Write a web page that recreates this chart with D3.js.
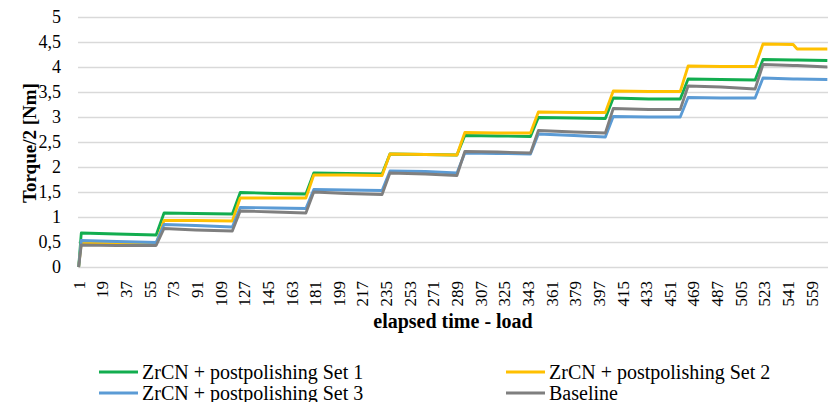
<!DOCTYPE html>
<html>
<head>
<meta charset="utf-8">
<script src="https://cdn.jsdelivr.net/npm/d3@7"></script>
<style>
  body { margin: 0; background: #fff; }
  svg text { font-family: "Liberation Serif", "DejaVu Serif", serif; fill: #000; }
</style>
</head>
<body>
<svg id="chart" width="836" height="402"></svg>
<script>
// categories run 1..571, labelled every 18th
const nCategories = 571;
const xTicks = [1, 19, 37, 55, 73, 91, 109, 127, 145, 163, 181, 199, 217, 235, 253, 271,
  289, 307, 325, 343, 361, 379, 397, 415, 433, 451, 469, 487, 505, 523, 541, 559];
const yTicks = [0, 0.5, 1, 1.5, 2, 2.5, 3, 3.5, 4, 4.5, 5];

// sample positions (category index)
const time = [1, 3, 30, 60, 66, 90, 118, 124, 150, 174, 180, 205, 232, 238, 265, 289,
  295, 320, 345, 351, 378, 402, 408, 435, 459, 465, 490, 516, 522, 545, 548, 571];

const set1 = [0, 0.68, 0.66, 0.64, 1.08, 1.07, 1.06, 1.49, 1.47, 1.46, 1.88, 1.87, 1.86, 2.26, 2.25, 2.24,
  2.63, 2.62, 2.61, 2.99, 2.98, 2.97, 3.38, 3.36, 3.36, 3.76, 3.75, 3.74, 4.15, 4.14, 4.14, 4.13];
const set2 = [0, 0.48, 0.46, 0.46, 0.93, 0.93, 0.92, 1.38, 1.38, 1.38, 1.84, 1.84, 1.83, 2.26, 2.25, 2.24,
  2.69, 2.68, 2.68, 3.10, 3.09, 3.09, 3.52, 3.51, 3.51, 4.02, 4.01, 4.01, 4.46, 4.45, 4.36, 4.36];
const set3 = [0, 0.53, 0.51, 0.49, 0.85, 0.83, 0.80, 1.19, 1.18, 1.17, 1.55, 1.54, 1.53, 1.92, 1.91, 1.88,
  2.28, 2.27, 2.26, 2.66, 2.63, 2.60, 3.01, 3.00, 3.00, 3.39, 3.38, 3.38, 3.78, 3.76, 3.76, 3.75];
const baseline = [0, 0.44, 0.43, 0.43, 0.77, 0.74, 0.72, 1.12, 1.10, 1.08, 1.50, 1.47, 1.45, 1.88, 1.86, 1.83,
  2.31, 2.30, 2.28, 2.73, 2.70, 2.68, 3.17, 3.15, 3.15, 3.62, 3.60, 3.56, 4.05, 4.03, 4.03, 4.00];

const seriesNames = ["ZrCN + postpolishing Set 1", "ZrCN + postpolishing Set 2",
  "ZrCN + postpolishing Set 3", "Baseline"];
const seriesValues = [set1, set2, set3, baseline];
const seriesColors = ["#12ad4f", "#ffc000", "#5b9bd5", "#7f7f7f"];

const svg = d3.select("#chart");
const plotLeft = 78, plotRight = 828, plotTop = 17, plotBottom = 267;

const x = d3.scaleLinear().domain([0.5, nCategories + 0.5]).range([plotLeft, plotRight]);
const y = d3.scaleLinear().domain([0, 5]).range([plotBottom, plotTop]);

// gridlines
svg.append("g")
  .attr("transform", `translate(${plotLeft},0)`)
  .call(d3.axisLeft(y).tickValues(yTicks).tickSize(-(plotRight - plotLeft)).tickFormat(""))
  .call((g) => g.select(".domain").remove())
  .call((g) => g.selectAll("line").attr("stroke", "#d9d9d9").attr("stroke-width", 1.3));

// y labels
svg.append("g")
  .attr("transform", `translate(${plotLeft},0)`)
  .call(d3.axisLeft(y).tickValues(yTicks).tickSize(0).tickPadding(17)
    .tickFormat((d) => String(d).replace(".", ",")))
  .call((g) => g.select(".domain").remove())
  .call((g) => g.selectAll("text").attr("font-size", 18).attr("dy", "0.33em"));

// x labels
svg.append("g")
  .attr("transform", `translate(0,${plotBottom})`)
  .call(d3.axisBottom(x).tickValues(xTicks).tickSize(0).tickFormat((d) => d))
  .call((g) => g.select(".domain").remove())
  .call((g) => g.selectAll("text")
    .attr("font-size", 17)
    .attr("text-anchor", "end")
    .attr("transform", "rotate(-90)")
    .attr("x", -14)
    .attr("y", 0)
    .attr("dy", "0.33em"));

// series
const line = d3.line()
  .x((d) => x(d[0]))
  .y((d) => y(d[1]));

seriesValues.forEach((vals, i) => {
  svg.append("path")
    .datum(time.map((t, j) => [t, vals[j]]))
    .attr("fill", "none")
    .attr("stroke", seriesColors[i])
    .attr("stroke-width", 2.8)
    .attr("stroke-linejoin", "round")
    .attr("d", line);
});

// axis titles
svg.append("text")
  .attr("transform", "translate(36,143) rotate(-90)")
  .attr("text-anchor", "middle")
  .attr("font-size", 19)
  .attr("font-weight", "bold")
  .text("Torque/2 [Nm]");

svg.append("text")
  .attr("x", (plotLeft + plotRight) / 2)
  .attr("y", 328)
  .attr("text-anchor", "middle")
  .attr("font-size", 20)
  .attr("font-weight", "bold")
  .text("elapsed time - load");

// legend
const legendPos = [[99, 372], [506, 372], [99, 393], [506, 393]];
seriesNames.forEach((name, i) => {
  const [lx, ly] = legendPos[i];
  const g = svg.append("g").attr("transform", `translate(${lx},${ly})`);
  g.append("line").attr("x1", 0).attr("x2", 39).attr("y1", 0).attr("y2", 0)
    .attr("stroke", seriesColors[i]).attr("stroke-width", 2.8);
  g.append("text").attr("x", 43).attr("y", 6.5).attr("font-size", 20).text(name);
});
</script>
</body>
</html>
